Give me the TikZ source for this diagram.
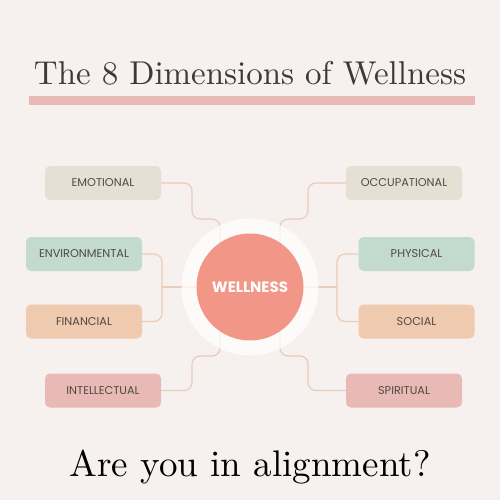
\documentclass[tikz,border=0pt]{standalone}
\usepackage{fontspec}
\newfontfamily\popp{Poppins}
\definecolor{bgc}{HTML}{F6F1EE}
\definecolor{titlec}{HTML}{3D3935}
\definecolor{barc}{HTML}{E8B9B5}
\definecolor{beigec}{HTML}{E5DFD4}
\definecolor{greenc}{HTML}{C3DBCF}
\definecolor{peachc}{HTML}{F0CAAE}
\definecolor{rosec}{HTML}{E8B9B5}
\definecolor{circc}{HTML}{F29788}
\definecolor{linec}{HTML}{EACCBB}
\definecolor{labelc}{HTML}{4F4A46}
\tikzset{
  dimbox/.style={rounded corners=5pt, minimum width=116pt, minimum height=34pt, inner sep=0pt,
    font=\popp\fontsize{11.3}{13}\selectfont, text=labelc},
  conn/.style={draw=linec, line width=1.2pt, rounded corners=8pt},
}
\begin{document}
\begin{tikzpicture}[x=1pt,y=-1pt]
\fill[bgc] (0,0) rectangle (500,500);
\useasboundingbox (0,0) rectangle (500,500);
% title
\node[text=titlec, anchor=base, inner sep=0pt] (title) at (250,85) {\resizebox{432pt}{!}{The 8 Dimensions of Wellness}};
\fill[barc] (29,96) rectangle (475,105);
% boxes
\node[dimbox, fill=beigec] (emo) at (103,183) {EMOTIONAL};
\node[dimbox, fill=greenc] (env) at (84,254) {ENVIRONMENTAL};
\node[dimbox, fill=peachc] (fin) at (84,321.5) {FINANCIAL};
\node[dimbox, fill=rosec] (int) at (103,390.5) {INTELLECTUAL};
\node[dimbox, fill=beigec] (occ) at (404,183) {OCCUPATIONAL};
\node[dimbox, fill=greenc] (phy) at (416.5,254) {PHYSICAL};
\node[dimbox, fill=peachc] (soc) at (416.5,321.5) {SOCIAL};
\node[dimbox, fill=rosec] (spi) at (404,390.5) {SPIRITUAL};
% centre
\coordinate (c) at (250,287);
% connectors
\draw[conn] (emo.east) -- (192,183) -- (192,219) -- (220,219) -- (220,250);
\draw[conn] (int.east) -- (192,390.5) -- (192,356) -- (220,356) -- (220,325);
\draw[conn] (occ.west) -- (308,183) -- (308,219) -- (280,219) -- (280,250);
\draw[conn] (spi.west) -- (308,390.5) -- (308,356) -- (280,356) -- (280,325);
\draw[conn] (env.east) -- (162,254) -- (162,321.5) -- (fin.east);
\draw[conn] (162,287) -- (c);
\draw[conn] (phy.west) -- (337,254) -- (337,321.5) -- (soc.west);
\draw[conn] (337,287) -- (c);
% circles
\fill[white, opacity=0.75] (c) circle[radius=68.5pt];
\node[circle, fill=circc, minimum size=107pt, inner sep=0pt, text=white,
  font=\popp\bfseries\fontsize{15}{16}\selectfont] (well) at (c) {WELLNESS};
% bottom text
\node[text=black, anchor=base, inner sep=0pt] (q) at (250,476) {\resizebox{361pt}{!}{Are you in alignment?}};
\end{tikzpicture}
\end{document}
